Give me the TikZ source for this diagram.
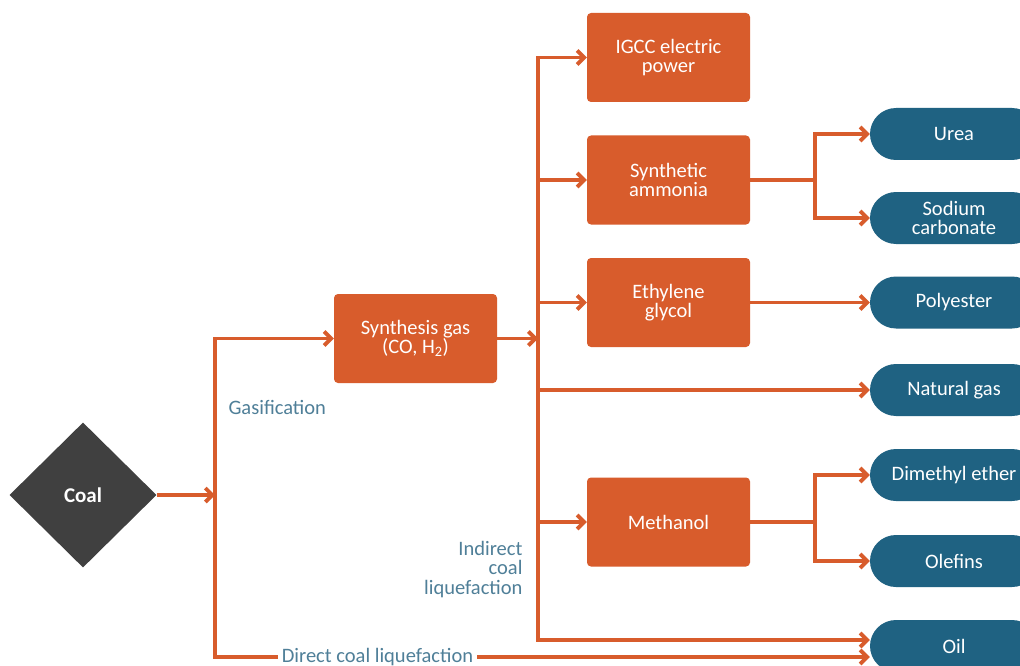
\documentclass[tikz,border=0pt]{standalone}
\usepackage{fontspec}
\setmainfont{Carlito}
\usetikzlibrary{arrows.meta,shapes.geometric}
\definecolor{org}{HTML}{D85C2C}
\definecolor{pblue}{HTML}{1F6282}
\definecolor{lblc}{HTML}{4F7F98}
\definecolor{coalc}{HTML}{404040}
\begin{document}
\begin{tikzpicture}[x=1pt,y=-1pt,
  font=\fontsize{20.5}{19.5}\selectfont,
  obox/.style={fill=org, text=white, rounded corners=4pt, minimum width=163pt, minimum height=89pt, align=center, inner sep=2pt},
  bbox/.style={fill=pblue, text=white, rounded corners=26pt, minimum width=168pt, minimum height=52pt, align=center, inner sep=0pt, font=\fontsize{20.5}{18.5}\selectfont},
  conn/.style={draw=org, line width=3.8pt},
  arr/.style={conn, -{Straight Barb[length=7pt,width=14pt]}},
  arrb/.style={conn, {Straight Barb[length=7pt,width=14pt]}-{Straight Barb[length=7pt,width=14pt]}},
  lbl/.style={text=lblc, align=right}
]
\useasboundingbox (0,0) rectangle (1020,666);
\clip (0,0) rectangle (1020,666);
\fill[white] (0,0) rectangle (1020,666);

% nodes
\node[diamond, fill=coalc, minimum width=147pt, minimum height=145pt, inner sep=0pt, text=white, font=\fontsize{21}{21}\selectfont\bfseries] (coal) at (83,495) {Coal};
\node[obox] (syn) at (415.5,338.5) {Synthesis gas\\(CO, H\textsubscript{2})};
\node[obox] (igcc) at (668.5,57.5) {IGCC electric\\power};
\node[obox] (amm) at (668.5,180) {Synthetic\\ammonia};
\node[obox] (eg) at (668.5,302.5) {Ethylene\\glycol};
\node[obox] (meth) at (668.5,522) {Methanol};

\node[bbox] (urea) at (954,134) {Urea};
\node[bbox] (soda) at (954,218) {Sodium\\carbonate};
\node[bbox] (poly) at (954,302.5) {Polyester};
\node[bbox] (ng) at (954,390) {Natural gas};
\node[bbox] (dme) at (954,475) {Dimethyl ether};
\node[bbox] (ole) at (954,561) {Olefins};
\node[bbox] (oil) at (954,646) {Oil};

% labels
\node[lbl, anchor=west] (gas) at (225,407) {Gasification};
\node[lbl, anchor=east] (icl) at (526,569.5) {Indirect\\coal\\liquefaction};
\node[lbl, inner sep=4pt] (dcl) at (377.5,657) {Direct coal liquefaction};

% junctions
\coordinate (j1) at (215,495);
\coordinate (b2) at (538,640);
\coordinate (k1) at (815,180);
\coordinate (k2) at (815,522);

% connectors
\draw[arr] (coal.east) -- (j1);
\draw[arr] (dcl.west) -| (syn.west -| j1) -- (syn.west);
\draw[arr] (dcl.east) -- (oil.west |- dcl.east);
\draw[arr] (syn.east) -- (b2 |- syn.east);
\draw[arrb] (igcc.west) -| (b2) -- (oil.west |- b2);
\draw[arr] (b2 |- amm.west) -- (amm.west);
\draw[arr] (b2 |- eg.west) -- (eg.west);
\draw[arr] (b2 |- ng.west) -- (ng.west);
\draw[arr] (b2 |- meth.west) -- (meth.west);
\draw[conn] (amm.east) -- (k1);
\draw[arrb] (urea.west) -| (k1) |- (soda.west);
\draw[arr] (eg.east) -- (poly.west);
\draw[conn] (meth.east) -- (k2);
\draw[arrb] (dme.west) -| (k2) |- (ole.west);
\end{tikzpicture}
\end{document}
